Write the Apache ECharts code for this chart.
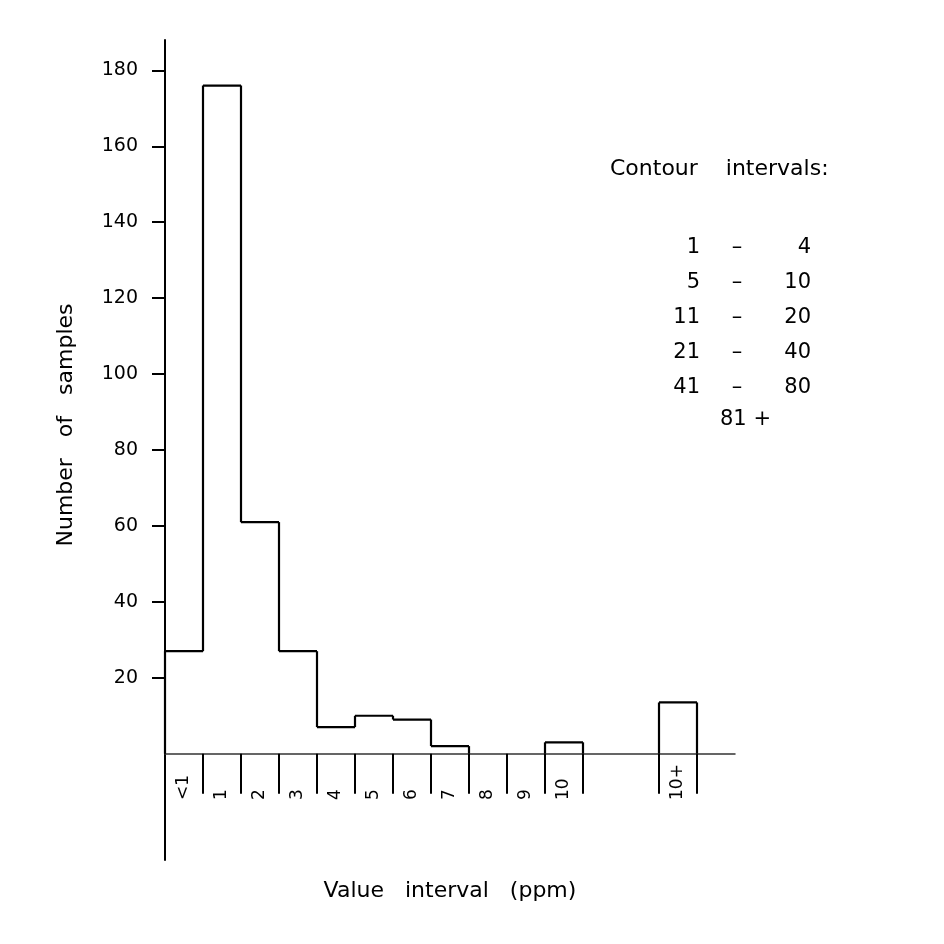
<!DOCTYPE html>
<html>
<head>
<meta charset="utf-8">
<script src="https://cdn.jsdelivr.net/npm/echarts@6/dist/echarts.min.js"></script>
<style>
  html, body { margin: 0; padding: 0; background: #fff; }
  #chart { width: 944px; height: 944px; }
</style>
</head>
<body>
<div id="chart"></div>
<script>
// histogram categories (blank ones are the gap before "10+")
const categories = ["<1", "1", "2", "3", "4", "5", "6", "7", "8", "9", "10", "", "", "10+", ""];
const sampleCounts = [27, 176, 61, 27, 7, 10, 9, 2, 0, 0, 3, 0, 0, 13.5, 0];
const yTicks = [20, 40, 60, 80, 100, 120, 140, 160, 180];

// contour interval legend
const contourLow = ["1", "5", "11", "21", "41"];
const contourHigh = ["4", "10", "20", "40", "80"];
const contourLast = "81 +";

const FONT = "DejaVu Sans";

const chart = echarts.init(document.getElementById("chart"), null, { renderer: "canvas" });

// each item: [index, count, previous count]
const outlineData = sampleCounts.map((v, i) => [i, v, i > 0 ? sampleCounts[i - 1] : 0]);

const lineStyle = { stroke: "#000", lineWidth: 2.2 };

/* 阶梯轮廓 + 轴下分隔线 */
function renderStep(params, api) {
  const i = api.value(0);
  const v = api.value(1);
  const p = api.value(2);
  const band = api.size([1, 0])[0];
  const top = api.coord([i, v]);
  const prev = api.coord([i, p]);
  const zero = api.coord([i, 0]);
  const x0 = top[0] - band / 2;
  const x1 = top[0] + band / 2;
  const children = [];
  if (v > 0) {
    children.push({ type: "line", shape: { x1: x0, y1: top[1], x2: x1, y2: top[1] }, style: lineStyle });
  }
  if (v !== p) {
    children.push({ type: "line", shape: { x1: x0, y1: prev[1], x2: x0, y2: top[1] }, style: lineStyle });
  }
  // divider below the axis between labelled cells
  if (i > 0 && (categories[i] !== "" || categories[i - 1] !== "")) {
    children.push({ type: "line", shape: { x1: x0, y1: zero[1], x2: x0, y2: zero[1] + 40 }, style: { stroke: "#000", lineWidth: 2 } });
  }
  return { type: "group", children: children };
}

const legendFont = "21px " + FONT;
const legendTexts = [
  { type: "text", left: 610, top: 158, style: { text: "Contour    intervals:", font: "22px " + FONT, fill: "#000" } }
];
contourLow.forEach((lo, k) => {
  const y = 237 + k * 35;
  legendTexts.push({ type: "text", x: 700, y: y, style: { text: lo, font: legendFont, fill: "#000", align: "right" } });
  legendTexts.push({ type: "text", x: 737, y: y, style: { text: "–", font: legendFont, fill: "#000", align: "center" } });
  legendTexts.push({ type: "text", x: 811, y: y, style: { text: contourHigh[k], font: legendFont, fill: "#000", align: "right" } });
});
legendTexts.push({ type: "text", x: 720, y: 409, style: { text: contourLast, font: legendFont, fill: "#000" } });

const option = {
  backgroundColor: "#fff",
  animation: false,
  grid: { left: 165, right: 209, top: 40, bottom: 84, containLabel: false, outerBoundsMode: "none" },
  xAxis: {
    type: "category",
    data: categories,
    boundaryGap: true,
    name: "Value   interval   (ppm)",
    nameLocation: "middle",
    nameGap: 20,
    nameTextStyle: { fontFamily: FONT, fontSize: 22, color: "#000" },
    axisLine: { show: true, onZero: true, lineStyle: { color: "#333", width: 1.5 } },
    axisTick: { show: false },
    axisLabel: {
      interval: 0,
      rotate: 90,
      align: "left",
      verticalAlign: "middle",
      margin: -60,
      fontFamily: FONT,
      fontSize: 17,
      color: "#000"
    },
    splitLine: { show: false }
  },
  yAxis: {
    type: "value",
    min: -28,
    max: 188,
    name: "Number   of   samples",
    nameLocation: "middle",
    nameGap: 88,
    nameTextStyle: { fontFamily: FONT, fontSize: 22, color: "#000", padding: [0, 0, 0, 50] },
    axisLine: { show: true, lineStyle: { color: "#000", width: 2 } },
    axisTick: { show: true, customValues: yTicks, length: 13, lineStyle: { color: "#000", width: 2 } },
    axisLabel: {
      customValues: yTicks,
      margin: 27,
      fontFamily: FONT,
      fontSize: 19,
      color: "#000"
    },
    splitLine: { show: false }
  },
  series: [{
    type: "custom",
    renderItem: renderStep,
    data: outlineData,
    encode: { x: 0, y: 1 },
    clip: false,
    silent: true
  }],
  graphic: legendTexts
};

chart.setOption(option);
window.addEventListener("resize", () => chart.resize());
</script>
</body>
</html>
